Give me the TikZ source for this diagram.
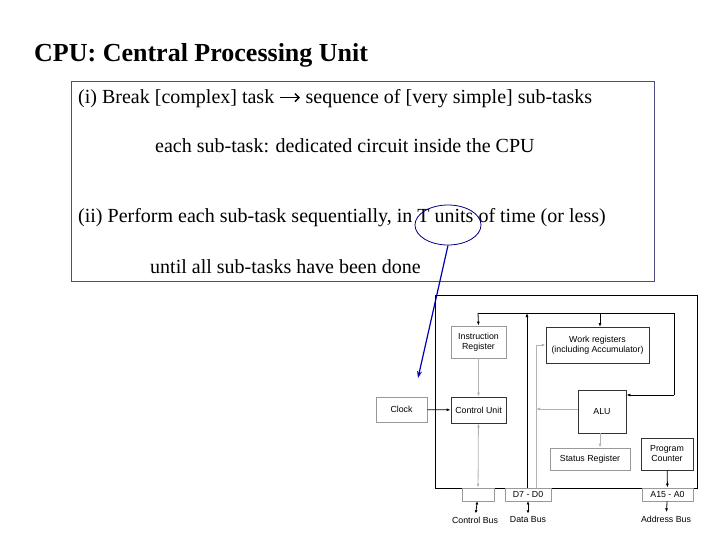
\documentclass[tikz,border=0pt]{standalone}
\usepackage{fontspec}
\setmainfont{Liberation Serif}
\newfontfamily\diagfont{Liberation Sans}
\usetikzlibrary{arrows.meta,shapes.geometric}
\tikzset{
  blk/.style={draw=black!80, line width=0.8pt, fill=white, inner sep=0pt, font=\diagfont\fontsize{8.8}{10}\selectfont, align=center},
  gblk/.style={blk, draw=black!40},
  txt/.style={anchor=west, font=\fontsize{20}{22}\selectfont, inner sep=0pt},
  bus/.style={line width=0.8pt, -{Latex[length=4pt,width=3pt]}},
  gbus/.style={bus, draw=black!30},
}
\begin{document}
\begin{tikzpicture}[x=1pt, y=-1pt]
\useasboundingbox (0,0) rectangle (720,540);

% text part
\node[anchor=west, font=\bfseries\fontsize{26}{28}\selectfont, inner sep=0pt] (title) at (34,55) {CPU: Central Processing Unit};
\draw[draw=blue!30!black!70, line width=0.8pt] (71,81) rectangle (654,281);
\node[txt] (l1) at (78,99) {(i) Break [complex] task \raisebox{1.5pt}{\tikz\draw[line width=1.4pt,-{Straight Barb[length=4pt,width=8pt]}] (0,0) -- (20pt,0);} sequence of [very simple] sub-tasks};
\node[txt] (l2) at (155,146) {each sub-task: dedicated circuit inside the CPU};
\node[txt] (l3) at (78,218) {(ii) Perform each sub-task sequentially, in T units of time (or less)};
\node[txt] (l4) at (150,267) {until all sub-tasks have been done};
\node[draw=blue!50!black, line width=0.8pt, ellipse, minimum width=66pt, minimum height=40pt] (tunits) at (448,225) {};
\coordinate (tip) at (418,378);
\draw[draw=blue!70!black, line width=1.2pt, -{Stealth[length=7pt,width=5pt]}] (tunits.south) -- (tip);

% cpu block
\draw[line width=1pt] (435,295) rectangle (697,488);
\node[gblk, minimum width=55pt, minimum height=32pt] (ir) at (478.5,342) {Instruction\\Register};
\node[blk, minimum width=103pt, minimum height=36pt] (wr) at (597.5,345) {Work registers\\(including Accumulator)};
\node[gblk, minimum width=51pt, minimum height=25pt] (clock) at (401.5,409.5) {Clock};
\node[blk, minimum width=55pt, minimum height=26pt] (cu) at (478.5,410) {Control Unit};
\node[blk, minimum width=48pt, minimum height=43pt] (alu) at (602,411.5) {ALU};
\node[gblk, minimum width=80pt, minimum height=22pt] (sr) at (590,459) {Status Register};
\node[blk, minimum width=52pt, minimum height=32pt] (pc) at (667,454) {Program\\Counter};
\node[gblk, minimum width=32pt, minimum height=13pt] (cb) at (478,494.5) {};
\node[gblk, minimum width=46pt, minimum height=13pt] (db) at (528,494.5) {D7 - D0};
\node[gblk, minimum width=51pt, minimum height=13pt] (ab) at (667.5,494.5) {A15 - A0};
\node[font=\diagfont\fontsize{8.8}{10}\selectfont] (cbl) at (475,520) {Control Bus};
\node[font=\diagfont\fontsize{8.8}{10}\selectfont] (dbl) at (528,520) {Data Bus};
\node[font=\diagfont\fontsize{8.8}{10}\selectfont] (abl) at (666,519) {Address Bus};

% connections
\coordinate (tl) at (478,313);
\coordinate (tr) at (674,313);
\draw[line width=0.8pt] (tl) -- (tr) -- (674,395);
\draw[bus] (674,395) -- (alu.east |- 0,395);
\draw[bus] (tl) -- (ir.north);
\draw[bus] (600,313) -- (600,327);
\draw[bus] (527,488) -- (527,313);
\draw[gbus] (536,488) -- (536,345) -- (wr.west |- 0,345);
\draw[gbus] (alu.west |- 0,409) -- (536,409);
\draw[gbus] (ir) -- (cu);
\draw[bus] (clock) -- (cu);
\draw[gbus, {Latex[length=4pt,width=3pt]}-{Latex[length=4pt,width=3pt]}] (cu) -- (cb);
\draw[gbus] (alu.south -| 600,0) -- (sr.north -| 600,0);
\draw[bus] (pc) -- (ab);
\draw[bus, {Latex[length=3pt,width=3pt]}-{Latex[length=3pt,width=3pt]}] (cb) -- (cbl);
\draw[bus, {Latex[length=3pt,width=3pt]}-{Latex[length=3pt,width=3pt]}] (db) -- (dbl);
\draw[bus] (ab) -- (abl);
\end{tikzpicture}
\end{document}
